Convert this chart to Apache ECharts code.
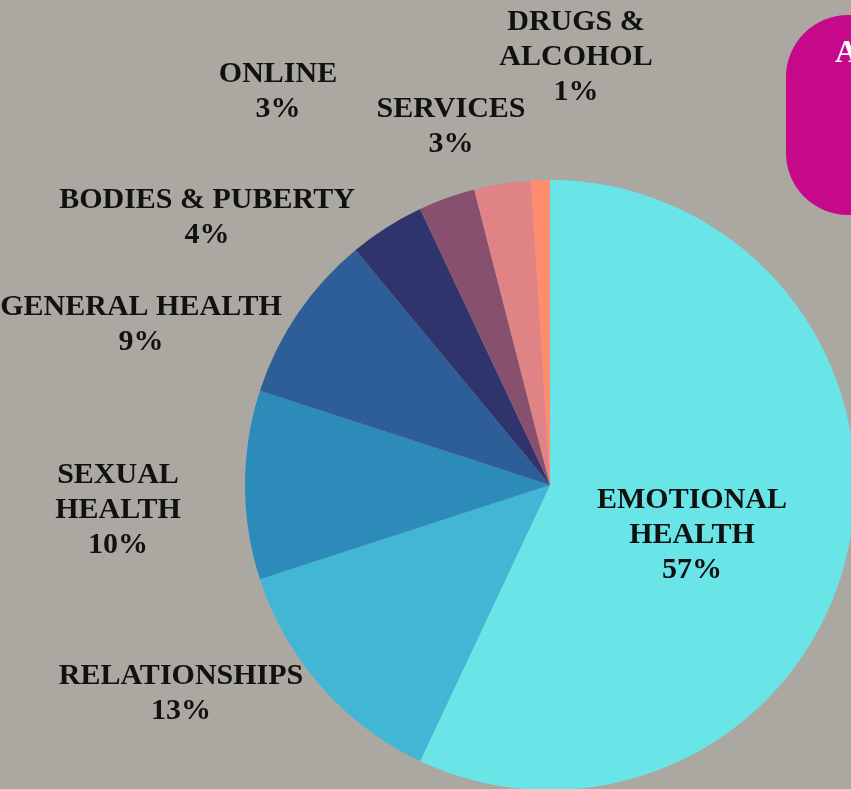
<!DOCTYPE html>
<html>
<head>
<meta charset="utf-8">
<script src="https://cdn.jsdelivr.net/npm/echarts@6/dist/echarts.min.js"></script>
<style>
  html, body { margin: 0; padding: 0; background: #aba8a2; }
  #main { width: 851px; height: 789px; }
</style>
</head>
<body>
<div id="main"></div>
<script>
var chart = echarts.init(document.getElementById('main'))

// topics and share of calls (%)
var names = ['EMOTIONAL\nHEALTH', 'RELATIONSHIPS', 'SEXUAL\nHEALTH', 'GENERAL HEALTH',
  'BODIES & PUBERTY', 'ONLINE', 'SERVICES', 'DRUGS &\nALCOHOL']
var values = [57, 13, 10, 9, 4, 3, 3, 1]
var colors = ['#69e5e8', '#41b7d5', '#2d8bba', '#2e5e98', '#2f346c', '#87506f', '#e08386', '#ff8c6f']

// where each label sits (centre of text block)
var labelPos = [[692, 535], [181, 694], [118, 510], [141, 325], [207, 218], [278, 92], [451, 127], [576, 57]]

var pieData = []
for (var i = 0; i < names.length; i++) {
    pieData.push({ name: names[i], value: values[i], itemStyle: { color: colors[i] } })
}

var option = {
    backgroundColor: '#aba8a2',
    animation: false,
    graphic: [{
        type: 'rect',
        shape: { x: 786, y: 15, width: 200, height: 200, r: 62 },
        style: { fill: '#c6098b' }
    }, {
        type: 'text',
        left: 835, top: 38,
        style: { text: 'A', fill: '#ffffff', font: 'bold 32px "Liberation Serif"' }
    }],
    series: [{
        type: 'pie',
        center: [550, 485],
        radius: 305,
        startAngle: 90,
        clockwise: true,
        avoidLabelOverlap: false,
        minShowLabelAngle: 0,
        data: pieData,
        labelLine: { show: false },
        label: {
            show: true,
            position: 'outside',
            formatter: '{b}\n{d}%',
            color: '#111111',
            fontFamily: 'Liberation Serif',
            fontWeight: 'bold',
            fontSize: 30,
            lineHeight: 35,
            align: 'center',
            width: 400,
            overflow: 'none'
        },
        labelLayout: function (params) {
            var p = labelPos[params.dataIndex]
            return { x: p[0], y: p[1], align: 'center', verticalAlign: 'middle', hideOverlap: false }
        }
    }]
}

chart.setOption(option)
</script>
</body>
</html>
